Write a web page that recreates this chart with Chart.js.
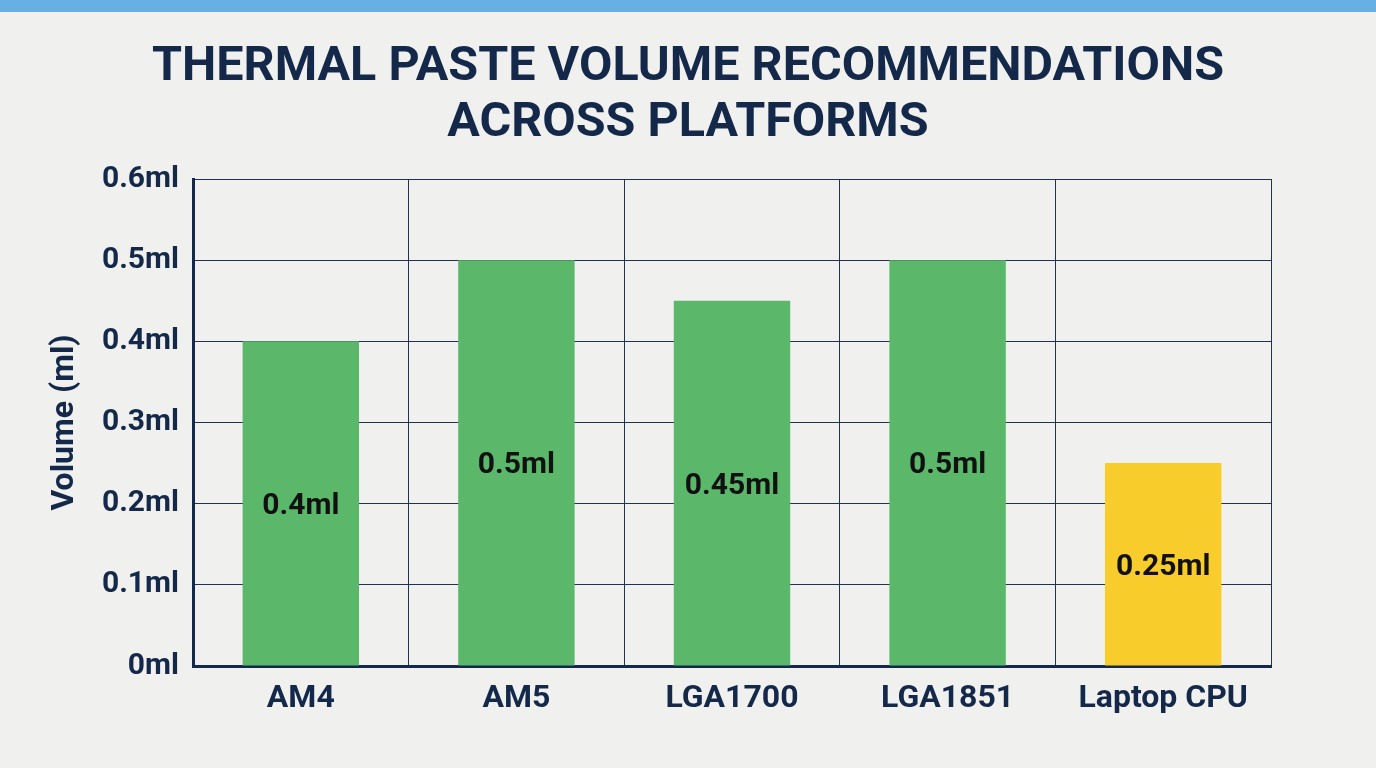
<!DOCTYPE html>
<html>
<head>
<meta charset="utf-8">
<script src="https://cdn.jsdelivr.net/npm/chart.js@4"></script>
<style>
  html, body { margin: 0; padding: 0; background: #f0f0ef; }
  #wrap { width: 1376px; height: 768px; position: relative; }
</style>
</head>
<body>
<div id="wrap"><canvas id="chart" width="1376" height="768"></canvas></div>
<script>
const platforms = ['AM4', 'AM5', 'LGA1700', 'LGA1851', 'Laptop CPU'];
const volumes = [0.4, 0.5, 0.45, 0.5, 0.25];
const barColors = ['#5bb86a', '#5bb86a', '#5bb86a', '#5bb86a', '#f8cd2b'];
const yTicks = [0, 0.1, 0.2, 0.3, 0.4, 0.5, 0.6];
const titleLines = ['THERMAL PASTE VOLUME RECOMMENDATIONS', 'ACROSS PLATFORMS'];

const navy = '#14294a';
const fontFamily = 'Roboto, "Liberation Sans", Arial, sans-serif';

// background + blue strip on top
const backdrop = {
    id: 'backdrop',
    beforeDraw(chart) {
        const ctx = chart.ctx;
        ctx.save();
        ctx.fillStyle = '#f0f0ef';
        ctx.fillRect(0, 0, chart.width, chart.height);
        ctx.fillStyle = '#67b0e6';
        ctx.fillRect(0, 0, chart.width, 12);
        ctx.restore();
    }
};

// value labels in the middle of each bar
const barLabels = {
    id: 'barLabels',
    afterDatasetsDraw(chart) {
        const ctx = chart.ctx;
        const meta = chart.getDatasetMeta(0);
        ctx.save();
        ctx.font = 'bold 30px ' + fontFamily;
        ctx.fillStyle = '#111111';
        ctx.textAlign = 'center';
        ctx.textBaseline = 'middle';
        meta.data.forEach((bar, i) => {
            ctx.fillText(volumes[i] + 'ml', bar.x, (bar.y + bar.base) / 2 + 3);
        });
        ctx.restore();
    }
};

new Chart(document.getElementById('chart'), {
    type: 'bar',
    data: {
        labels: platforms,
        datasets: [{
            data: volumes,
            backgroundColor: barColors,
            categoryPercentage: 1,
            barPercentage: 0.54
        }]
    },
    options: {
        responsive: false,
        animation: false,
        layout: { padding: { top: 40, right: 0, bottom: 0, left: 0 } },
        plugins: {
            legend: { display: false },
            tooltip: { enabled: false },
            title: {
                display: true,
                text: titleLines,
                color: navy,
                font: { family: fontFamily, size: 48.5, weight: 'bold', lineHeight: 1.155 },
                padding: { top: 0, bottom: 27 }
            }
        },
        scales: {
            x: {
                afterFit(scale) { scale.height = 102; },
                grid: { color: '#1f3350', lineWidth: 1, drawTicks: false, offset: true },
                border: { color: navy, width: 3 },
                ticks: {
                    color: navy,
                    padding: 14,
                    font: { family: fontFamily, size: 32, weight: 'bold' }
                }
            },
            y: {
                min: 0,
                max: 0.6,
                afterFit(scale) { scale.width = 193; },
                afterBuildTicks(scale) { scale.ticks = yTicks.map(v => ({ value: v })); },
                grid: { color: '#1f3350', lineWidth: 1, drawTicks: false },
                border: { color: navy, width: 3 },
                ticks: {
                    color: navy,
                    padding: 14,
                    font: { family: fontFamily, size: 30, weight: 'bold' },
                    callback: v => v + 'ml'
                },
                title: {
                    display: true,
                    text: 'Volume (ml)',
                    color: navy,
                    font: { family: fontFamily, size: 32, weight: 'bold' },
                    padding: { top: 46, bottom: 0 }
                }
            },
            // empty right margin so the title stays centred on the page
            yRight: {
                position: 'right',
                afterFit(scale) { scale.width = 105; },
                grid: { display: false },
                border: { display: false },
                ticks: { display: false }
            }
        }
    },
    plugins: [backdrop, barLabels]
});
</script>
</body>
</html>
